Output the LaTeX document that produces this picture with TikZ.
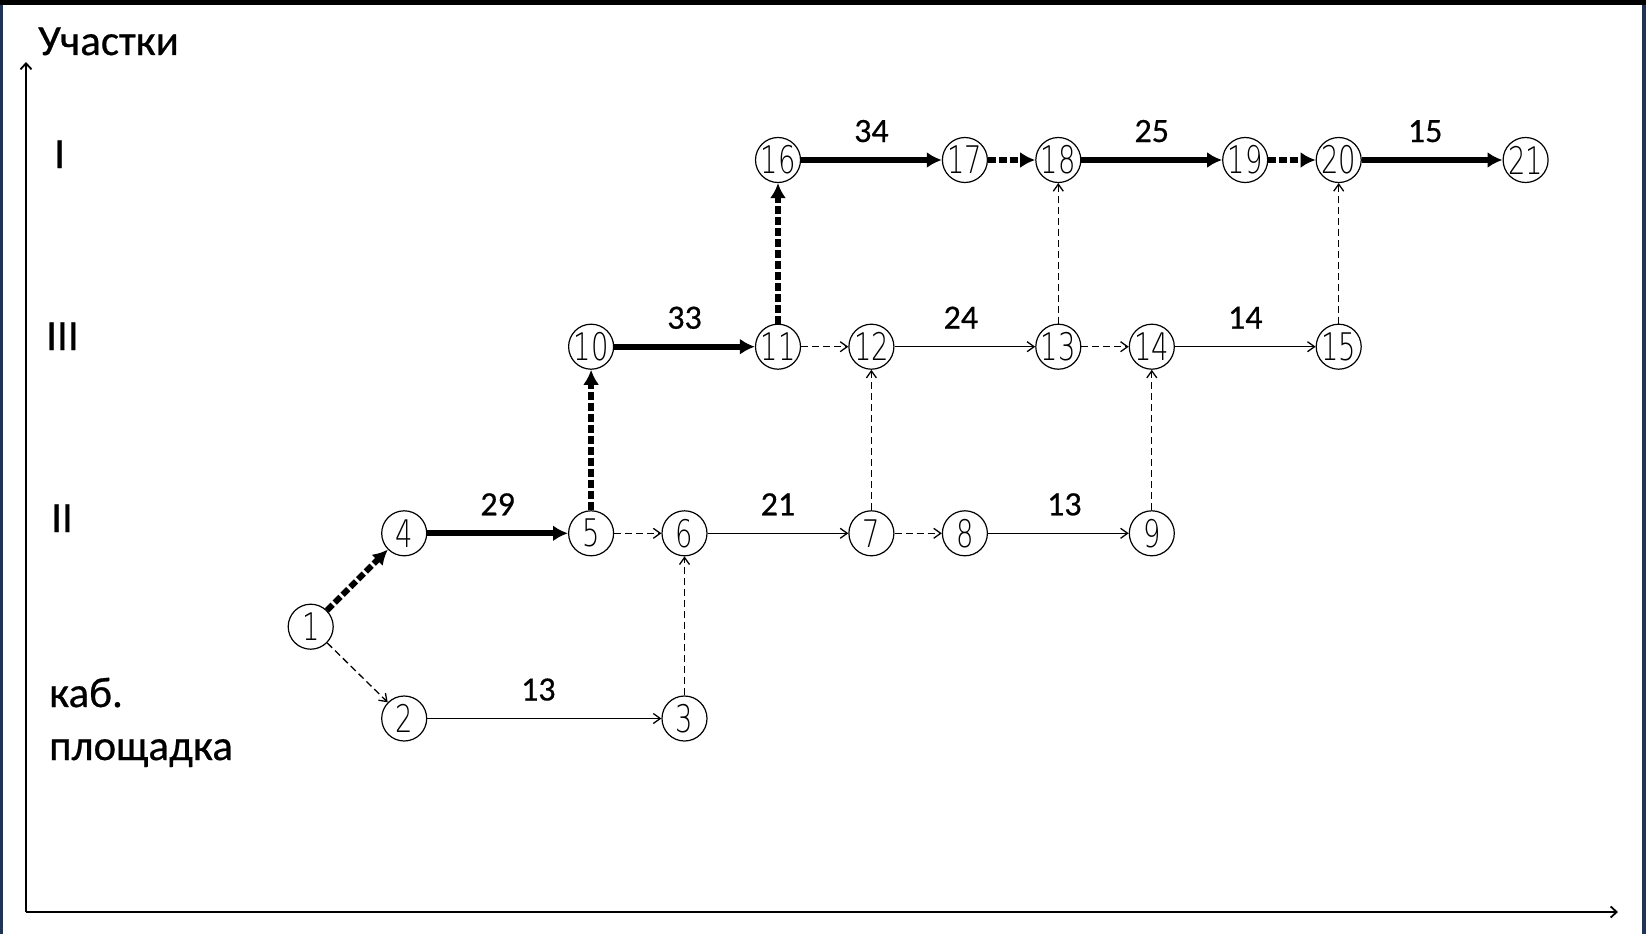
\documentclass[tikz,border=0pt]{standalone}
\usepackage{fontspec}
\setmainfont[FakeBold=0.5]{Carlito}
\IfFontExistsTF{DejaVu Sans ExtraLight}{\newfontfamily\nodefont[FakeStretch=0.72]{DejaVu Sans ExtraLight}}{\newfontfamily\nodefont[FakeStretch=0.72]{DejaVu Sans}}
\usetikzlibrary{arrows.meta}
\definecolor{frameblue}{RGB}{34,52,86}
\begin{document}
\begin{tikzpicture}[x=1pt,y=-1pt,
 ev/.style={circle,draw,line width=1.2pt,minimum size=45pt,inner sep=0pt,font=\nodefont\fontsize{38}{38}\selectfont},
 crit/.style={line width=6pt,-{Latex[length=15pt,width=16pt]}},
 critdum/.style={crit,dash pattern=on 8pt off 3pt},
 work/.style={line width=1.3pt,-{Straight Barb[length=7pt,width=10pt]}},
 dum/.style={work,dash pattern=on 7pt off 4pt},
 axis/.style={line width=1.8pt,-{Straight Barb[length=6pt,width=11pt]}},
 lab/.style={font=\fontsize{43}{50}\selectfont,anchor=base west,inner sep=0pt},
 num/.style={font=\fontsize{34}{38}\selectfont,anchor=base,inner sep=0pt,pos=0.5,yshift=18pt},
]
\useasboundingbox (0,0) rectangle (1646,934);
\fill[white] (0,0) rectangle (1646,934);
\fill[black] (0,0) rectangle (1646,5);
\fill[frameblue] (0,5) rectangle (3,934);
\fill[frameblue] (1642,5) rectangle (1646,934);

% axes
\coordinate (O) at (26,912);
\coordinate (Ytop) at (26,62);
\coordinate (Xend) at (1618,912);
\draw[axis] (O) -- (Ytop);
\draw[axis] (O) -- (Xend);

% axis labels
\node[lab] (tU) at (38,55) {Участки};
\node[lab] (tI) at (54,168) {I};
\node[lab] (tIII) at (46,350) {III};
\node[lab] (tII) at (51,532) {II};
\node[lab] (tk) at (49,707) {каб.};
\node[lab] (tp) at (49,760) {площадка};

% events
\node[ev] (n1) at (310.7,626.7) {1};
\node[ev] (n2) at (404.2,718.5) {2};
\node[ev] (n3) at (684.5,718.5) {3};
\node[ev] (n4) at (404.2,533.3) {4};
\node[ev] (n5) at (591.1,533.3) {5};
\node[ev] (n6) at (684.5,533.3) {6};
\node[ev] (n7) at (871.4,533.3) {7};
\node[ev] (n8) at (964.9,533.3) {8};
\node[ev] (n9) at (1151.8,533.3) {9};
\node[ev] (n10) at (591.1,346.7) {10};
\node[ev] (n11) at (778,346.7) {11};
\node[ev] (n12) at (871.4,346.7) {12};
\node[ev] (n13) at (1058.3,346.7) {13};
\node[ev] (n14) at (1151.8,346.7) {14};
\node[ev] (n15) at (1338.7,346.7) {15};
\node[ev] (n16) at (778,160) {16};
\node[ev] (n17) at (964.9,160) {17};
\node[ev] (n18) at (1058.3,160) {18};
\node[ev] (n19) at (1245.2,160) {19};
\node[ev] (n20) at (1338.7,160) {20};
\node[ev] (n21) at (1525.6,160) {21};

% critical path
\draw[critdum] (n1) -- (n4);
\draw[crit] (n4) -- node[num] {29} (n5);
\draw[critdum] (n5) -- (n10);
\draw[crit] (n10) -- node[num] {33} (n11);
\draw[critdum] (n11) -- (n16);
\draw[crit] (n16) -- node[num] {34} (n17);
\draw[critdum] (n17) -- (n18);
\draw[crit] (n18) -- node[num] {25} (n19);
\draw[critdum] (n19) -- (n20);
\draw[crit] (n20) -- node[num,xshift=-7pt] {15} (n21);

% other works
\draw[work] (n2) -- node[num,xshift=-6pt] {13} (n3);
\draw[work] (n6) -- node[num] {21} (n7);
\draw[work] (n8) -- node[num,xshift=6pt] {13} (n9);
\draw[work] (n12) -- node[num,xshift=-4pt] {24} (n13);
\draw[work] (n14) -- node[num] {14} (n15);

% dummies
\draw[dum] (n1) -- (n2);
\draw[dum] (n5) -- (n6);
\draw[dum] (n3) -- (n6);
\draw[dum] (n7) -- (n8);
\draw[dum] (n7) -- (n12);
\draw[dum] (n11) -- (n12);
\draw[dum] (n13) -- (n14);
\draw[dum] (n9) -- (n14);
\draw[dum] (n13) -- (n18);
\draw[dum] (n15) -- (n20);
\end{tikzpicture}
\end{document}
